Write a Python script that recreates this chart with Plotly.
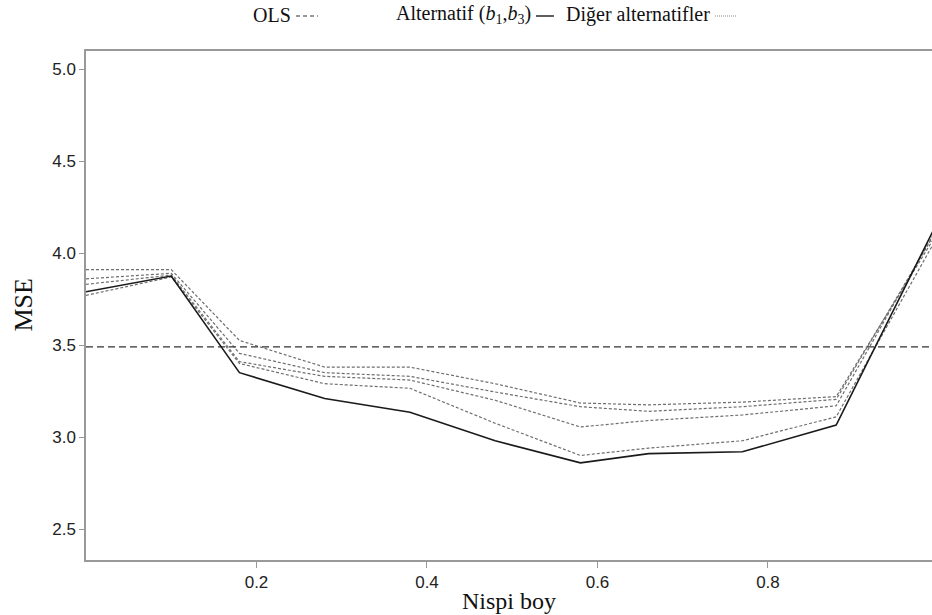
import plotly.graph_objects as go

# Relative length (Nispi boy) grid
nispi_boy = [0.0, 0.10, 0.18, 0.28, 0.38, 0.48, 0.58, 0.66, 0.77, 0.88, 1.0]

# OLS reference MSE (constant)
ols_mse = [3.49] * len(nispi_boy)

# Alternative (b1, b3)
alt_b1_b3 = [3.79, 3.875, 3.35, 3.21, 3.135, 2.98, 2.86, 2.91, 2.92, 3.065, 4.18]

# Other alternatives
diger_1 = [3.91, 3.91, 3.525, 3.38, 3.38, 3.29, 3.185, 3.175, 3.19, 3.22, 4.12]
diger_2 = [3.86, 3.89, 3.455, 3.35, 3.33, 3.245, 3.165, 3.14, 3.165, 3.205, 4.14]
diger_3 = [3.83, 3.88, 3.41, 3.33, 3.31, 3.20, 3.055, 3.09, 3.12, 3.17, 4.15]
diger_4 = [3.77, 3.87, 3.40, 3.29, 3.265, 3.075, 2.90, 2.94, 2.98, 3.11, 4.10]
diger = [diger_1, diger_2, diger_3, diger_4]

y_ticks = [2.5, 3.0, 3.5, 4.0, 4.5, 5.0]
x_ticks = [0.2, 0.4, 0.6, 0.8]

SERIF = "Liberation Serif, Times New Roman, serif"
SANS = "Liberation Sans, Arial, sans-serif"

fig = go.Figure()

for ys in diger:
    fig.add_trace(go.Scatter(
        x=nispi_boy, y=ys, mode="lines",
        line=dict(color="#6e6e6e", width=1.2, dash="3px,2px"),
        showlegend=False, hoverinfo="skip"))

fig.add_trace(go.Scatter(
    x=nispi_boy, y=ols_mse, mode="lines",
    line=dict(color="#333333", width=1.3, dash="7px,4px"),
    showlegend=False))

fig.add_trace(go.Scatter(
    x=nispi_boy, y=alt_b1_b3, mode="lines",
    line=dict(color="#1a1a1a", width=1.6),
    showlegend=False))

axis_col = "#999999"

fig.update_layout(
    width=932, height=615,
    margin=dict(l=86, r=0, t=51, b=55),
    paper_bgcolor="white", plot_bgcolor="white",
    xaxis=dict(
        range=[0, 0.9924], tickvals=x_ticks,
        ticktext=[f"{v:.1f}" for v in x_ticks],
        showgrid=False, zeroline=False,
        showline=True, linecolor=axis_col, linewidth=1.5, mirror=True,
        ticks="outside", ticklen=6, tickcolor=axis_col, tickwidth=1,
        tickfont=dict(family=SANS, size=17, color="#222222"),
    ),
    yaxis=dict(
        range=[2.332, 5.098], tickvals=y_ticks,
        ticktext=[f"{v:.1f}" for v in y_ticks],
        showgrid=False, zeroline=False,
        showline=True, linecolor=axis_col, linewidth=1.5,
        ticks="outside", ticklen=5, tickcolor=axis_col, tickwidth=1,
        tickfont=dict(family=SANS, size=17, color="#222222"),
    ),
    showlegend=False,
)

# Axis titles
fig.add_annotation(text="MSE", xref="paper", yref="paper", x=0, y=0.5,
                   xanchor="center", yanchor="middle", xshift=-63,
                   textangle=-90, showarrow=False,
                   font=dict(family=SERIF, size=26, color="#111111"))
fig.add_annotation(text="Nispi boy", xref="paper", yref="paper", x=0.5, y=0,
                   xanchor="center", yanchor="middle", yshift=-41,
                   showarrow=False,
                   font=dict(family=SERIF, size=24, color="#111111"))

# Header key: label text followed by a line sample
key_y = 1 + 36 / 509  # ~15 px from the top of the figure


def px_to_paper(px):
    return (px - 86) / 846


def key_entry(label, right_px, sample_from, sample_to, dash, color, width):
    fig.add_annotation(text=label, xref="paper", yref="paper",
                       x=px_to_paper(right_px), y=key_y,
                       xanchor="right", yanchor="middle", showarrow=False,
                       font=dict(family=SERIF, size=20, color="#111111"))
    fig.add_shape(type="line", xref="paper", yref="paper",
                  x0=px_to_paper(sample_from), x1=px_to_paper(sample_to),
                  y0=key_y - 1 / 509, y1=key_y - 1 / 509,
                  line=dict(color=color, width=width, dash=dash))


key_entry("OLS", 293, 296, 318, "4px,3px", "#333333", 1.2)
key_entry("Alternatif (<i>b</i><sub>1</sub>,<i>b</i><sub>3</sub>)", 533, 536, 554,
          "solid", "#1a1a1a", 1.4)
key_entry("Diğer alternatifler", 712, 715, 736, "1px,1px", "#888888", 1.2)

fig.write_html("out.html")
